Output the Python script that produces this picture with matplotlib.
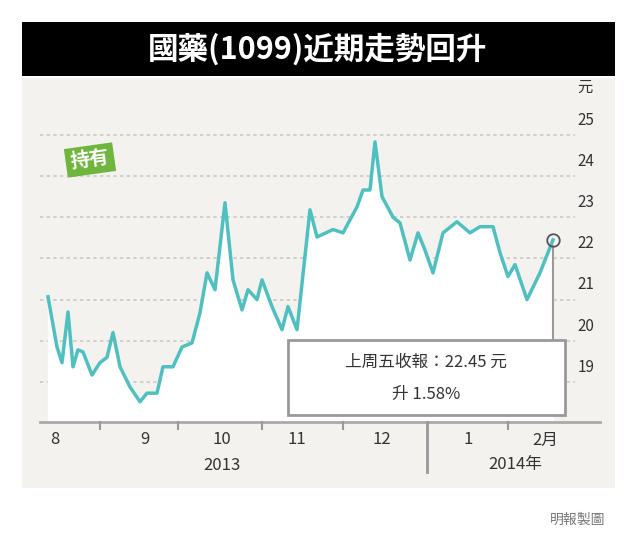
import matplotlib.pyplot as plt
from matplotlib import font_manager
from matplotlib.patches import Rectangle

# pick whatever CJK family is registered
cjk = [f.name for f in font_manager.fontManager.ttflist if 'CJK' in f.name]
pref = [n for n in ['Noto Sans CJK TC', 'Noto Sans CJK JP', 'Noto Sans CJK SC'] if n in cjk]
plt.rcParams['font.family'] = (pref[:1] or cjk[:1]) + ['DejaVu Sans']

# data (x = trading position along the chart, y = price in HK$)
pos = [48, 57, 62, 68, 73, 78, 83, 92, 100, 107, 113, 120, 130, 140, 147, 157, 163, 173,
       182, 192, 200, 207, 215, 225, 233, 242, 248, 257, 262, 272, 282, 288, 297, 310,
       317, 333, 343, 357, 363, 370, 375, 382, 393, 400, 410, 418, 425, 433, 443, 457,
       470, 480, 493, 500, 508, 515, 527, 540, 553]
price = [21.07, 19.85, 19.47, 20.7, 19.37, 19.78, 19.73, 19.17, 19.47, 19.6, 20.2, 19.37,
         18.88, 18.52, 18.73, 18.73, 19.37, 19.37, 19.85, 19.95, 20.68, 21.65, 21.24, 23.35,
         21.48, 20.75, 21.24, 21.0, 21.48, 20.83, 20.27, 20.83, 20.27, 23.18, 22.52, 22.7,
         22.62, 23.25, 23.66, 23.66, 24.83, 23.5, 23.0, 22.86, 21.96, 22.62, 22.2, 21.65,
         22.62, 22.89, 22.62, 22.77, 22.77, 22.14, 21.56, 21.85, 21.0, 21.65, 22.45]
yticks = [19, 20, 21, 22, 23, 24, 25]
month_pos = [55, 145, 222, 297, 382, 468, 545]
month_labels = ['8', '9', '10', '11', '12', '1', '2月']
tick_pos = [100, 178, 262, 343, 508]
year_pos = [222, 515]
year_labels = ['2013', '2014年']

W, H = 639, 540
fig = plt.figure(figsize=(W / 100, H / 100), dpi=100)
fig.patch.set_facecolor('white')

# background panel and title bar in pixel coords
bg = fig.add_axes([0, 0, 1, 1])
bg.set_xlim(0, W)
bg.set_ylim(H, 0)
bg.axis('off')
bg.add_patch(Rectangle((22, 78), 593, 410, color='#f4f2ee', lw=0))
bg.add_patch(Rectangle((22, 22), 593, 54, color='black', lw=0))
bg.text(318, 49, '國藥(1099)近期走勢回升', color='white', fontsize=22,
        fontweight='bold', ha='center', va='center')
bg.text(605, 520, '明報製圖', color='#777777', fontsize=10, ha='right', va='center')

# main plot
x0, x1, ytop, ybot = 40, 575, 80, 422
ax = fig.add_axes([x0 / W, 1 - ybot / H, (x1 - x0) / W, (ybot - ytop) / H])
ax.set_xlim(x0, x1)
ax.set_ylim(18.03, 26.33)
ax.patch.set_alpha(0)
for s in ax.spines.values():
    s.set_visible(False)
ax.set_xticks([])
ax.set_yticks([])
for v in yticks:
    ax.axhline(v, color='#c8c8c8', lw=1.2, ls=(0, (2, 2)), zorder=1)
    ax.text(1.005, v + 0.15, str(v), transform=ax.get_yaxis_transform(),
            fontsize=11, color='#333333', ha='left', va='bottom')
ax.text(1.005, 25.95, '元', transform=ax.get_yaxis_transform(), fontsize=11,
        color='#333333', ha='left', va='bottom')
ax.fill_between(pos, price, 18.03, color='white', zorder=2)
ax.plot(pos, price, color='#4fbfc0', lw=2.5, zorder=3)
ax.plot(pos[-1], price[-1], 'o', ms=9, mfc='none', mec='#555555', mew=1.3, zorder=4)
ax.plot([pos[-1], pos[-1]], [18.5, price[-1] - 0.15], color='#999999', lw=1.5, zorder=3)

# overlay in pixel coords
ov = fig.add_axes([0, 0, 1, 1])
ov.set_xlim(0, W)
ov.set_ylim(H, 0)
ov.axis('off')
ov.patch.set_alpha(0)
ov.text(90, 160, '持有', color='white', fontsize=14, fontweight='bold', ha='center',
        va='center', rotation=8,
        bbox=dict(boxstyle='square,pad=0.25', fc='#6fb53e', ec='none'))

# callout box
ov.add_patch(Rectangle((288, 340), 277, 75, fc='white', ec='#999999', lw=2, zorder=5))
ov.text(426, 362, '上周五收報：22.45 元', fontsize=12, color='#333333',
        ha='center', va='center', zorder=6)
ov.text(426, 394, '升 1.58%', fontsize=12, color='#333333',
        ha='center', va='center', zorder=6)

# x axis
ov.plot([x0, 600], [ybot, ybot], color='#aaaaaa', lw=2)
for p in tick_pos:
    ov.plot([p, p], [ybot, ybot + 7], color='#999999', lw=1.5)
ov.plot([427, 427], [ybot, 472], color='#999999', lw=2)
for p, lab in zip(month_pos, month_labels):
    ov.text(p, 440, lab, fontsize=12, color='#333333', ha='center', va='center')
for p, lab in zip(year_pos, year_labels):
    ov.text(p, 465, lab, fontsize=12, color='#333333', ha='center', va='center')

fig.savefig('out.png', dpi=100)
